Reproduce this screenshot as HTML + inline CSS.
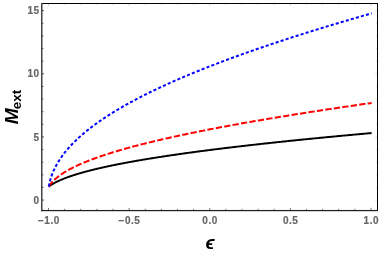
<!DOCTYPE html>
<html><head><meta charset="utf-8"><title>plot</title>
<style>
html,body{margin:0;padding:0;background:#fff;}
body{width:382px;height:254px;overflow:hidden;font-family:"Liberation Sans",sans-serif;}
svg{display:block;will-change:transform;}
text{font-family:"Liberation Sans",sans-serif;}
</style></head><body>
<svg width="382" height="254" viewBox="0 0 382 254">
<rect width="382" height="254" fill="#fff"/>
<g fill="none" stroke-linecap="butt" stroke-linejoin="round">
<path d="M48.80 186.51 L48.80 186.51 L48.81 186.50 L48.82 186.50 L48.83 186.49 L48.85 186.47 L48.87 186.46 L48.90 186.44 L48.93 186.41 L48.96 186.39 L49.00 186.36 L49.05 186.33 L49.09 186.30 L49.14 186.26 L49.20 186.22 L49.26 186.18 L49.32 186.13 L49.39 186.09 L49.46 186.04 L49.53 185.98 L49.61 185.93 L49.69 185.87 L49.78 185.81 L49.87 185.75 L49.97 185.68 L50.07 185.61 L50.17 185.54 L50.28 185.47 L50.39 185.40 L50.51 185.32 L50.63 185.24 L50.75 185.16 L50.88 185.08 L51.01 184.99 L51.14 184.91 L51.28 184.82 L51.43 184.73 L51.58 184.63 L51.73 184.54 L51.88 184.44 L52.04 184.35 L52.21 184.25 L52.38 184.15 L52.55 184.05 L52.73 183.94 L52.91 183.84 L53.09 183.73 L53.28 183.62 L53.47 183.51 L53.67 183.40 L53.87 183.29 L54.07 183.18 L54.28 183.07 L54.50 182.95 L54.71 182.83 L54.93 182.72 L55.16 182.60 L55.39 182.48 L55.62 182.36 L55.86 182.24 L56.10 182.11 L56.35 181.99 L56.60 181.87 L56.85 181.74 L57.11 181.62 L57.37 181.49 L57.63 181.36 L57.90 181.24 L58.18 181.11 L58.45 180.98 L58.74 180.85 L59.02 180.72 L59.31 180.59 L59.61 180.45 L59.90 180.32 L60.21 180.19 L60.51 180.05 L60.82 179.92 L61.14 179.78 L61.46 179.65 L61.78 179.51 L62.11 179.38 L62.44 179.24 L62.77 179.10 L63.11 178.97 L63.45 178.83 L63.80 178.69 L64.15 178.55 L64.50 178.41 L64.86 178.27 L65.23 178.13 L65.59 177.99 L65.96 177.85 L66.34 177.71 L66.72 177.57 L67.10 177.43 L67.49 177.29 L67.88 177.15 L68.28 177.00 L68.68 176.86 L69.08 176.72 L69.49 176.58 L69.90 176.43 L70.31 176.29 L70.73 176.15 L71.16 176.00 L71.59 175.86 L72.02 175.71 L72.45 175.57 L72.89 175.42 L73.34 175.28 L73.79 175.14 L74.24 174.99 L74.69 174.85 L75.15 174.70 L75.62 174.55 L76.09 174.41 L76.56 174.26 L77.04 174.12 L77.52 173.97 L78.00 173.83 L78.49 173.68 L78.98 173.53 L79.48 173.39 L79.98 173.24 L80.49 173.09 L81.00 172.95 L81.51 172.80 L82.03 172.65 L82.55 172.51 L83.07 172.36 L83.60 172.21 L84.13 172.07 L84.67 171.92 L85.21 171.77 L85.76 171.62 L86.31 171.48 L86.86 171.33 L87.42 171.18 L87.98 171.03 L88.55 170.89 L89.12 170.74 L89.69 170.59 L90.27 170.44 L90.85 170.30 L91.44 170.15 L92.03 170.00 L92.62 169.85 L93.22 169.70 L93.82 169.56 L94.43 169.41 L95.04 169.26 L95.65 169.11 L96.27 168.96 L96.89 168.82 L97.52 168.67 L98.15 168.52 L98.79 168.37 L99.42 168.22 L100.07 168.08 L100.71 167.93 L101.37 167.78 L102.02 167.63 L102.68 167.48 L103.34 167.34 L104.01 167.19 L104.68 167.04 L105.36 166.89 L106.04 166.74 L106.72 166.60 L107.41 166.45 L108.10 166.30 L108.79 166.15 L109.49 166.00 L110.20 165.85 L110.90 165.71 L111.62 165.56 L112.33 165.41 L113.05 165.26 L113.78 165.11 L114.50 164.97 L115.24 164.82 L115.97 164.67 L116.71 164.52 L117.46 164.37 L118.21 164.23 L118.96 164.08 L119.71 163.93 L120.47 163.78 L121.24 163.63 L122.01 163.49 L122.78 163.34 L123.56 163.19 L124.34 163.04 L125.12 162.90 L125.91 162.75 L126.70 162.60 L127.50 162.45 L128.30 162.30 L129.11 162.16 L129.92 162.01 L130.73 161.86 L131.55 161.71 L132.37 161.57 L133.19 161.42 L134.02 161.27 L134.86 161.12 L135.69 160.98 L136.54 160.83 L137.38 160.68 L138.23 160.53 L139.08 160.39 L139.94 160.24 L140.80 160.09 L141.67 159.94 L142.54 159.80 L143.41 159.65 L144.29 159.50 L145.17 159.35 L146.06 159.21 L146.95 159.06 L147.84 158.91 L148.74 158.77 L149.65 158.62 L150.55 158.47 L151.46 158.32 L152.38 158.18 L153.30 158.03 L154.22 157.88 L155.15 157.74 L156.08 157.59 L157.01 157.44 L157.95 157.30 L158.89 157.15 L159.84 157.00 L160.79 156.86 L161.75 156.71 L162.71 156.56 L163.67 156.42 L164.64 156.27 L165.61 156.12 L166.58 155.98 L167.56 155.83 L168.55 155.68 L169.53 155.54 L170.52 155.39 L171.52 155.24 L172.52 155.10 L173.52 154.95 L174.53 154.80 L175.54 154.66 L176.56 154.51 L177.58 154.36 L178.60 154.22 L179.63 154.07 L180.66 153.92 L181.70 153.78 L182.74 153.63 L183.79 153.49 L184.83 153.34 L185.89 153.19 L186.94 153.05 L188.00 152.90 L189.07 152.76 L190.14 152.61 L191.21 152.46 L192.29 152.32 L193.37 152.17 L194.45 152.02 L195.54 151.88 L196.63 151.73 L197.73 151.59 L198.83 151.44 L199.94 151.30 L201.05 151.15 L202.16 151.00 L203.28 150.86 L204.40 150.71 L205.52 150.57 L206.65 150.42 L207.79 150.27 L208.93 150.13 L210.07 149.98 L211.21 149.84 L212.36 149.69 L213.52 149.55 L214.67 149.40 L215.84 149.26 L217.00 149.11 L218.17 148.96 L219.35 148.82 L220.52 148.67 L221.71 148.53 L222.89 148.38 L224.08 148.24 L225.28 148.09 L226.48 147.95 L227.68 147.80 L228.89 147.66 L230.10 147.51 L231.31 147.37 L232.53 147.22 L233.75 147.07 L234.98 146.93 L236.21 146.78 L237.45 146.64 L238.68 146.49 L239.93 146.35 L241.18 146.20 L242.43 146.06 L243.68 145.91 L244.94 145.77 L246.20 145.62 L247.47 145.48 L248.74 145.33 L250.02 145.19 L251.30 145.04 L252.58 144.90 L253.87 144.75 L255.16 144.61 L256.46 144.46 L257.76 144.32 L259.06 144.17 L260.37 144.03 L261.68 143.88 L263.00 143.74 L264.32 143.59 L265.64 143.45 L266.97 143.30 L268.30 143.16 L269.64 143.01 L270.98 142.87 L272.32 142.73 L273.67 142.58 L275.02 142.44 L276.38 142.29 L277.74 142.15 L279.11 142.00 L280.48 141.86 L281.85 141.71 L283.23 141.57 L284.61 141.42 L285.99 141.28 L287.38 141.13 L288.77 140.99 L290.17 140.84 L291.57 140.70 L292.98 140.56 L294.39 140.41 L295.80 140.27 L297.22 140.12 L298.64 139.98 L300.07 139.83 L301.50 139.69 L302.93 139.54 L304.37 139.40 L305.81 139.26 L307.25 139.11 L308.70 138.97 L310.16 138.82 L311.62 138.68 L313.08 138.53 L314.54 138.39 L316.01 138.24 L317.49 138.10 L318.97 137.96 L320.45 137.81 L321.94 137.67 L323.43 137.52 L324.92 137.38 L326.42 137.23 L327.92 137.09 L329.43 136.94 L330.94 136.80 L332.46 136.66 L333.97 136.51 L335.50 136.37 L337.02 136.22 L338.56 136.08 L340.09 135.93 L341.63 135.79 L343.17 135.65 L344.72 135.50 L346.27 135.36 L347.83 135.21 L349.39 135.07 L350.95 134.92 L352.52 134.78 L354.09 134.64 L355.66 134.49 L357.24 134.35 L358.83 134.20 L360.42 134.06 L362.01 133.91 L363.60 133.77 L365.20 133.63 L366.81 133.48 L368.42 133.34 L370.03 133.19 L371.64 133.05" stroke="#000" stroke-width="1.95"/>
<path d="M48.80 186.51 L48.80 186.51 L48.81 186.50 L48.82 186.48 L48.83 186.46 L48.85 186.43 L48.87 186.39 L48.90 186.35 L48.93 186.30 L48.96 186.25 L49.00 186.19 L49.05 186.12 L49.09 186.05 L49.14 185.97 L49.20 185.89 L49.26 185.80 L49.32 185.71 L49.39 185.61 L49.46 185.50 L49.53 185.39 L49.61 185.28 L49.69 185.16 L49.78 185.04 L49.87 184.91 L49.97 184.78 L50.07 184.65 L50.17 184.51 L50.28 184.36 L50.39 184.22 L50.51 184.07 L50.63 183.91 L50.75 183.76 L50.88 183.60 L51.01 183.44 L51.14 183.27 L51.28 183.10 L51.43 182.93 L51.58 182.76 L51.73 182.58 L51.88 182.41 L52.04 182.23 L52.21 182.05 L52.38 181.86 L52.55 181.68 L52.73 181.49 L52.91 181.30 L53.09 181.11 L53.28 180.92 L53.47 180.72 L53.67 180.53 L53.87 180.33 L54.07 180.13 L54.28 179.93 L54.50 179.73 L54.71 179.53 L54.93 179.33 L55.16 179.13 L55.39 178.92 L55.62 178.72 L55.86 178.51 L56.10 178.30 L56.35 178.10 L56.60 177.89 L56.85 177.68 L57.11 177.47 L57.37 177.26 L57.63 177.04 L57.90 176.83 L58.18 176.62 L58.45 176.41 L58.74 176.19 L59.02 175.98 L59.31 175.76 L59.61 175.55 L59.90 175.33 L60.21 175.12 L60.51 174.90 L60.82 174.68 L61.14 174.47 L61.46 174.25 L61.78 174.03 L62.11 173.81 L62.44 173.59 L62.77 173.38 L63.11 173.16 L63.45 172.94 L63.80 172.72 L64.15 172.50 L64.50 172.28 L64.86 172.06 L65.23 171.84 L65.59 171.62 L65.96 171.40 L66.34 171.18 L66.72 170.96 L67.10 170.73 L67.49 170.51 L67.88 170.29 L68.28 170.07 L68.68 169.85 L69.08 169.63 L69.49 169.41 L69.90 169.18 L70.31 168.96 L70.73 168.74 L71.16 168.52 L71.59 168.30 L72.02 168.07 L72.45 167.85 L72.89 167.63 L73.34 167.41 L73.79 167.18 L74.24 166.96 L74.69 166.74 L75.15 166.52 L75.62 166.30 L76.09 166.07 L76.56 165.85 L77.04 165.63 L77.52 165.41 L78.00 165.18 L78.49 164.96 L78.98 164.74 L79.48 164.51 L79.98 164.29 L80.49 164.07 L81.00 163.85 L81.51 163.62 L82.03 163.40 L82.55 163.18 L83.07 162.96 L83.60 162.73 L84.13 162.51 L84.67 162.29 L85.21 162.07 L85.76 161.84 L86.31 161.62 L86.86 161.40 L87.42 161.18 L87.98 160.95 L88.55 160.73 L89.12 160.51 L89.69 160.29 L90.27 160.07 L90.85 159.84 L91.44 159.62 L92.03 159.40 L92.62 159.18 L93.22 158.95 L93.82 158.73 L94.43 158.51 L95.04 158.29 L95.65 158.07 L96.27 157.84 L96.89 157.62 L97.52 157.40 L98.15 157.18 L98.79 156.96 L99.42 156.73 L100.07 156.51 L100.71 156.29 L101.37 156.07 L102.02 155.85 L102.68 155.62 L103.34 155.40 L104.01 155.18 L104.68 154.96 L105.36 154.74 L106.04 154.52 L106.72 154.29 L107.41 154.07 L108.10 153.85 L108.79 153.63 L109.49 153.41 L110.20 153.19 L110.90 152.96 L111.62 152.74 L112.33 152.52 L113.05 152.30 L113.78 152.08 L114.50 151.86 L115.24 151.64 L115.97 151.41 L116.71 151.19 L117.46 150.97 L118.21 150.75 L118.96 150.53 L119.71 150.31 L120.47 150.09 L121.24 149.87 L122.01 149.64 L122.78 149.42 L123.56 149.20 L124.34 148.98 L125.12 148.76 L125.91 148.54 L126.70 148.32 L127.50 148.10 L128.30 147.88 L129.11 147.65 L129.92 147.43 L130.73 147.21 L131.55 146.99 L132.37 146.77 L133.19 146.55 L134.02 146.33 L134.86 146.11 L135.69 145.89 L136.54 145.67 L137.38 145.45 L138.23 145.22 L139.08 145.00 L139.94 144.78 L140.80 144.56 L141.67 144.34 L142.54 144.12 L143.41 143.90 L144.29 143.68 L145.17 143.46 L146.06 143.24 L146.95 143.02 L147.84 142.80 L148.74 142.57 L149.65 142.35 L150.55 142.13 L151.46 141.91 L152.38 141.69 L153.30 141.47 L154.22 141.25 L155.15 141.03 L156.08 140.81 L157.01 140.59 L157.95 140.37 L158.89 140.15 L159.84 139.92 L160.79 139.70 L161.75 139.48 L162.71 139.26 L163.67 139.04 L164.64 138.82 L165.61 138.60 L166.58 138.38 L167.56 138.16 L168.55 137.94 L169.53 137.72 L170.52 137.49 L171.52 137.27 L172.52 137.05 L173.52 136.83 L174.53 136.61 L175.54 136.39 L176.56 136.17 L177.58 135.95 L178.60 135.73 L179.63 135.51 L180.66 135.28 L181.70 135.06 L182.74 134.84 L183.79 134.62 L184.83 134.40 L185.89 134.18 L186.94 133.96 L188.00 133.74 L189.07 133.51 L190.14 133.29 L191.21 133.07 L192.29 132.85 L193.37 132.63 L194.45 132.41 L195.54 132.19 L196.63 131.97 L197.73 131.74 L198.83 131.52 L199.94 131.30 L201.05 131.08 L202.16 130.86 L203.28 130.64 L204.40 130.41 L205.52 130.19 L206.65 129.97 L207.79 129.75 L208.93 129.53 L210.07 129.31 L211.21 129.08 L212.36 128.86 L213.52 128.64 L214.67 128.42 L215.84 128.20 L217.00 127.97 L218.17 127.75 L219.35 127.53 L220.52 127.31 L221.71 127.08 L222.89 126.86 L224.08 126.64 L225.28 126.42 L226.48 126.20 L227.68 125.97 L228.89 125.75 L230.10 125.53 L231.31 125.31 L232.53 125.08 L233.75 124.86 L234.98 124.64 L236.21 124.42 L237.45 124.19 L238.68 123.97 L239.93 123.75 L241.18 123.52 L242.43 123.30 L243.68 123.08 L244.94 122.85 L246.20 122.63 L247.47 122.41 L248.74 122.18 L250.02 121.96 L251.30 121.74 L252.58 121.51 L253.87 121.29 L255.16 121.07 L256.46 120.84 L257.76 120.62 L259.06 120.40 L260.37 120.17 L261.68 119.95 L263.00 119.73 L264.32 119.50 L265.64 119.28 L266.97 119.05 L268.30 118.83 L269.64 118.61 L270.98 118.38 L272.32 118.16 L273.67 117.93 L275.02 117.71 L276.38 117.48 L277.74 117.26 L279.11 117.03 L280.48 116.81 L281.85 116.59 L283.23 116.36 L284.61 116.14 L285.99 115.91 L287.38 115.69 L288.77 115.46 L290.17 115.24 L291.57 115.01 L292.98 114.78 L294.39 114.56 L295.80 114.33 L297.22 114.11 L298.64 113.88 L300.07 113.66 L301.50 113.43 L302.93 113.21 L304.37 112.98 L305.81 112.75 L307.25 112.53 L308.70 112.30 L310.16 112.08 L311.62 111.85 L313.08 111.62 L314.54 111.40 L316.01 111.17 L317.49 110.94 L318.97 110.72 L320.45 110.49 L321.94 110.26 L323.43 110.04 L324.92 109.81 L326.42 109.58 L327.92 109.36 L329.43 109.13 L330.94 108.90 L332.46 108.67 L333.97 108.45 L335.50 108.22 L337.02 107.99 L338.56 107.76 L340.09 107.54 L341.63 107.31 L343.17 107.08 L344.72 106.85 L346.27 106.62 L347.83 106.40 L349.39 106.17 L350.95 105.94 L352.52 105.71 L354.09 105.48 L355.66 105.25 L357.24 105.03 L358.83 104.80 L360.42 104.57 L362.01 104.34 L363.60 104.11 L365.20 103.88 L366.81 103.65 L368.42 103.42 L370.03 103.19 L371.64 102.96" stroke="#ff0000" stroke-width="2" stroke-dasharray="6.3 2.25"/>
<path d="M48.80 186.51 L48.80 186.50 L48.81 186.46 L48.82 186.41 L48.83 186.33 L48.85 186.22 L48.87 186.10 L48.90 185.95 L48.93 185.79 L48.96 185.61 L49.00 185.40 L49.05 185.18 L49.09 184.95 L49.14 184.70 L49.20 184.43 L49.26 184.15 L49.32 183.85 L49.39 183.55 L49.46 183.23 L49.53 182.90 L49.61 182.57 L49.69 182.22 L49.78 181.87 L49.87 181.50 L49.97 181.13 L50.07 180.76 L50.17 180.38 L50.28 179.99 L50.39 179.59 L50.51 179.20 L50.63 178.79 L50.75 178.39 L50.88 177.98 L51.01 177.56 L51.14 177.14 L51.28 176.72 L51.43 176.30 L51.58 175.87 L51.73 175.44 L51.88 175.01 L52.04 174.58 L52.21 174.14 L52.38 173.71 L52.55 173.27 L52.73 172.83 L52.91 172.39 L53.09 171.95 L53.28 171.50 L53.47 171.06 L53.67 170.61 L53.87 170.16 L54.07 169.72 L54.28 169.27 L54.50 168.82 L54.71 168.37 L54.93 167.92 L55.16 167.47 L55.39 167.02 L55.62 166.56 L55.86 166.11 L56.10 165.66 L56.35 165.20 L56.60 164.75 L56.85 164.30 L57.11 163.84 L57.37 163.39 L57.63 162.93 L57.90 162.48 L58.18 162.02 L58.45 161.57 L58.74 161.11 L59.02 160.66 L59.31 160.20 L59.61 159.75 L59.90 159.29 L60.21 158.84 L60.51 158.38 L60.82 157.93 L61.14 157.47 L61.46 157.02 L61.78 156.56 L62.11 156.10 L62.44 155.65 L62.77 155.19 L63.11 154.74 L63.45 154.28 L63.80 153.83 L64.15 153.37 L64.50 152.92 L64.86 152.46 L65.23 152.01 L65.59 151.55 L65.96 151.10 L66.34 150.64 L66.72 150.19 L67.10 149.74 L67.49 149.28 L67.88 148.83 L68.28 148.37 L68.68 147.92 L69.08 147.47 L69.49 147.01 L69.90 146.56 L70.31 146.10 L70.73 145.65 L71.16 145.20 L71.59 144.75 L72.02 144.29 L72.45 143.84 L72.89 143.39 L73.34 142.93 L73.79 142.48 L74.24 142.03 L74.69 141.58 L75.15 141.13 L75.62 140.67 L76.09 140.22 L76.56 139.77 L77.04 139.32 L77.52 138.87 L78.00 138.42 L78.49 137.97 L78.98 137.52 L79.48 137.07 L79.98 136.62 L80.49 136.16 L81.00 135.71 L81.51 135.26 L82.03 134.81 L82.55 134.36 L83.07 133.91 L83.60 133.46 L84.13 133.02 L84.67 132.57 L85.21 132.12 L85.76 131.67 L86.31 131.22 L86.86 130.77 L87.42 130.32 L87.98 129.87 L88.55 129.42 L89.12 128.98 L89.69 128.53 L90.27 128.08 L90.85 127.63 L91.44 127.18 L92.03 126.73 L92.62 126.29 L93.22 125.84 L93.82 125.39 L94.43 124.94 L95.04 124.50 L95.65 124.05 L96.27 123.60 L96.89 123.16 L97.52 122.71 L98.15 122.26 L98.79 121.82 L99.42 121.37 L100.07 120.92 L100.71 120.48 L101.37 120.03 L102.02 119.58 L102.68 119.14 L103.34 118.69 L104.01 118.24 L104.68 117.80 L105.36 117.35 L106.04 116.91 L106.72 116.46 L107.41 116.02 L108.10 115.57 L108.79 115.12 L109.49 114.68 L110.20 114.23 L110.90 113.79 L111.62 113.34 L112.33 112.90 L113.05 112.45 L113.78 112.01 L114.50 111.56 L115.24 111.12 L115.97 110.67 L116.71 110.23 L117.46 109.78 L118.21 109.34 L118.96 108.89 L119.71 108.45 L120.47 108.00 L121.24 107.56 L122.01 107.12 L122.78 106.67 L123.56 106.23 L124.34 105.78 L125.12 105.34 L125.91 104.89 L126.70 104.45 L127.50 104.01 L128.30 103.56 L129.11 103.12 L129.92 102.67 L130.73 102.23 L131.55 101.78 L132.37 101.34 L133.19 100.90 L134.02 100.45 L134.86 100.01 L135.69 99.57 L136.54 99.12 L137.38 98.68 L138.23 98.23 L139.08 97.79 L139.94 97.35 L140.80 96.90 L141.67 96.46 L142.54 96.01 L143.41 95.57 L144.29 95.13 L145.17 94.68 L146.06 94.24 L146.95 93.80 L147.84 93.35 L148.74 92.91 L149.65 92.46 L150.55 92.02 L151.46 91.58 L152.38 91.13 L153.30 90.69 L154.22 90.25 L155.15 89.80 L156.08 89.36 L157.01 88.91 L157.95 88.47 L158.89 88.03 L159.84 87.58 L160.79 87.14 L161.75 86.70 L162.71 86.25 L163.67 85.81 L164.64 85.36 L165.61 84.92 L166.58 84.48 L167.56 84.03 L168.55 83.59 L169.53 83.14 L170.52 82.70 L171.52 82.26 L172.52 81.81 L173.52 81.37 L174.53 80.92 L175.54 80.48 L176.56 80.04 L177.58 79.59 L178.60 79.15 L179.63 78.70 L180.66 78.26 L181.70 77.81 L182.74 77.37 L183.79 76.93 L184.83 76.48 L185.89 76.04 L186.94 75.59 L188.00 75.15 L189.07 74.70 L190.14 74.26 L191.21 73.81 L192.29 73.37 L193.37 72.92 L194.45 72.48 L195.54 72.03 L196.63 71.59 L197.73 71.14 L198.83 70.70 L199.94 70.25 L201.05 69.81 L202.16 69.36 L203.28 68.92 L204.40 68.47 L205.52 68.03 L206.65 67.58 L207.79 67.13 L208.93 66.69 L210.07 66.24 L211.21 65.80 L212.36 65.35 L213.52 64.90 L214.67 64.46 L215.84 64.01 L217.00 63.57 L218.17 63.12 L219.35 62.67 L220.52 62.23 L221.71 61.78 L222.89 61.33 L224.08 60.89 L225.28 60.44 L226.48 59.99 L227.68 59.55 L228.89 59.10 L230.10 58.65 L231.31 58.20 L232.53 57.76 L233.75 57.31 L234.98 56.86 L236.21 56.41 L237.45 55.97 L238.68 55.52 L239.93 55.07 L241.18 54.62 L242.43 54.17 L243.68 53.73 L244.94 53.28 L246.20 52.83 L247.47 52.38 L248.74 51.93 L250.02 51.48 L251.30 51.04 L252.58 50.59 L253.87 50.14 L255.16 49.69 L256.46 49.24 L257.76 48.79 L259.06 48.34 L260.37 47.89 L261.68 47.44 L263.00 46.99 L264.32 46.54 L265.64 46.09 L266.97 45.64 L268.30 45.19 L269.64 44.74 L270.98 44.29 L272.32 43.84 L273.67 43.39 L275.02 42.94 L276.38 42.49 L277.74 42.04 L279.11 41.58 L280.48 41.13 L281.85 40.68 L283.23 40.23 L284.61 39.78 L285.99 39.33 L287.38 38.87 L288.77 38.42 L290.17 37.97 L291.57 37.52 L292.98 37.07 L294.39 36.61 L295.80 36.16 L297.22 35.71 L298.64 35.25 L300.07 34.80 L301.50 34.35 L302.93 33.89 L304.37 33.44 L305.81 32.99 L307.25 32.53 L308.70 32.08 L310.16 31.63 L311.62 31.17 L313.08 30.72 L314.54 30.26 L316.01 29.81 L317.49 29.35 L318.97 28.90 L320.45 28.44 L321.94 27.99 L323.43 27.53 L324.92 27.08 L326.42 26.62 L327.92 26.16 L329.43 25.71 L330.94 25.25 L332.46 24.80 L333.97 24.34 L335.50 23.88 L337.02 23.43 L338.56 22.97 L340.09 22.51 L341.63 22.05 L343.17 21.60 L344.72 21.14 L346.27 20.68 L347.83 20.22 L349.39 19.77 L350.95 19.31 L352.52 18.85 L354.09 18.39 L355.66 17.93 L357.24 17.47 L358.83 17.01 L360.42 16.55 L362.01 16.09 L363.60 15.63 L365.20 15.18 L366.81 14.72 L368.42 14.26 L370.03 13.79 L371.64 13.33" stroke="#0000ff" stroke-width="2" stroke-dasharray="3.1 2.15"/>
</g>
<g stroke="#c4c4c4" stroke-width="0.6" fill="none">
<line x1="377" y1="200.10" x2="375.25" y2="200.10"/>
<line x1="377" y1="187.47" x2="375.85" y2="187.47"/>
<line x1="377" y1="174.85" x2="375.85" y2="174.85"/>
<line x1="377" y1="162.22" x2="375.85" y2="162.22"/>
<line x1="377" y1="149.59" x2="375.85" y2="149.59"/>
<line x1="377" y1="136.96" x2="375.25" y2="136.96"/>
<line x1="377" y1="124.34" x2="375.85" y2="124.34"/>
<line x1="377" y1="111.71" x2="375.85" y2="111.71"/>
<line x1="377" y1="99.08" x2="375.85" y2="99.08"/>
<line x1="377" y1="86.46" x2="375.85" y2="86.46"/>
<line x1="377" y1="73.83" x2="375.25" y2="73.83"/>
<line x1="377" y1="61.20" x2="375.85" y2="61.20"/>
<line x1="377" y1="48.58" x2="375.85" y2="48.58"/>
<line x1="377" y1="35.95" x2="375.85" y2="35.95"/>
<line x1="377" y1="23.32" x2="375.85" y2="23.32"/>
<line x1="377" y1="10.69" x2="375.25" y2="10.69"/>
<line x1="48.50" y1="4" x2="48.50" y2="6.10"/>
<line x1="64.62" y1="4" x2="64.62" y2="5.20"/>
<line x1="80.74" y1="4" x2="80.74" y2="5.20"/>
<line x1="96.87" y1="4" x2="96.87" y2="5.20"/>
<line x1="112.99" y1="4" x2="112.99" y2="5.20"/>
<line x1="129.11" y1="4" x2="129.11" y2="6.10"/>
<line x1="145.23" y1="4" x2="145.23" y2="5.20"/>
<line x1="161.35" y1="4" x2="161.35" y2="5.20"/>
<line x1="177.48" y1="4" x2="177.48" y2="5.20"/>
<line x1="193.60" y1="4" x2="193.60" y2="5.20"/>
<line x1="209.72" y1="4" x2="209.72" y2="6.10"/>
<line x1="225.84" y1="4" x2="225.84" y2="5.20"/>
<line x1="241.96" y1="4" x2="241.96" y2="5.20"/>
<line x1="258.09" y1="4" x2="258.09" y2="5.20"/>
<line x1="274.21" y1="4" x2="274.21" y2="5.20"/>
<line x1="290.33" y1="4" x2="290.33" y2="6.10"/>
<line x1="306.45" y1="4" x2="306.45" y2="5.20"/>
<line x1="322.57" y1="4" x2="322.57" y2="5.20"/>
<line x1="338.70" y1="4" x2="338.70" y2="5.20"/>
<line x1="354.82" y1="4" x2="354.82" y2="5.20"/>
<line x1="370.94" y1="4" x2="370.94" y2="6.10"/>
</g>
<g stroke="#484848" stroke-width="1" fill="none">
<line x1="42" y1="200.10" x2="43.95" y2="200.10"/>
<line x1="42" y1="187.47" x2="43.35" y2="187.47"/>
<line x1="42" y1="174.85" x2="43.35" y2="174.85"/>
<line x1="42" y1="162.22" x2="43.35" y2="162.22"/>
<line x1="42" y1="149.59" x2="43.35" y2="149.59"/>
<line x1="42" y1="136.96" x2="43.95" y2="136.96"/>
<line x1="42" y1="124.34" x2="43.35" y2="124.34"/>
<line x1="42" y1="111.71" x2="43.35" y2="111.71"/>
<line x1="42" y1="99.08" x2="43.35" y2="99.08"/>
<line x1="42" y1="86.46" x2="43.35" y2="86.46"/>
<line x1="42" y1="73.83" x2="43.95" y2="73.83"/>
<line x1="42" y1="61.20" x2="43.35" y2="61.20"/>
<line x1="42" y1="48.58" x2="43.35" y2="48.58"/>
<line x1="42" y1="35.95" x2="43.35" y2="35.95"/>
<line x1="42" y1="23.32" x2="43.35" y2="23.32"/>
<line x1="42" y1="10.69" x2="43.95" y2="10.69"/>
</g>
<g stroke="#6a6a6a" stroke-width="0.9" fill="none">
<line x1="48.50" y1="210.2" x2="48.50" y2="207.90"/>
<line x1="64.62" y1="210.2" x2="64.62" y2="208.80"/>
<line x1="80.74" y1="210.2" x2="80.74" y2="208.80"/>
<line x1="96.87" y1="210.2" x2="96.87" y2="208.80"/>
<line x1="112.99" y1="210.2" x2="112.99" y2="208.80"/>
<line x1="129.11" y1="210.2" x2="129.11" y2="207.90"/>
<line x1="145.23" y1="210.2" x2="145.23" y2="208.80"/>
<line x1="161.35" y1="210.2" x2="161.35" y2="208.80"/>
<line x1="177.48" y1="210.2" x2="177.48" y2="208.80"/>
<line x1="193.60" y1="210.2" x2="193.60" y2="208.80"/>
<line x1="209.72" y1="210.2" x2="209.72" y2="207.90"/>
<line x1="225.84" y1="210.2" x2="225.84" y2="208.80"/>
<line x1="241.96" y1="210.2" x2="241.96" y2="208.80"/>
<line x1="258.09" y1="210.2" x2="258.09" y2="208.80"/>
<line x1="274.21" y1="210.2" x2="274.21" y2="208.80"/>
<line x1="290.33" y1="210.2" x2="290.33" y2="207.90"/>
<line x1="306.45" y1="210.2" x2="306.45" y2="208.80"/>
<line x1="322.57" y1="210.2" x2="322.57" y2="208.80"/>
<line x1="338.70" y1="210.2" x2="338.70" y2="208.80"/>
<line x1="354.82" y1="210.2" x2="354.82" y2="208.80"/>
<line x1="370.94" y1="210.2" x2="370.94" y2="207.90"/>
</g>
<!-- frame -->
<rect x="41" y="3" width="337" height="1" fill="#000"/>
<rect x="377" y="3" width="1" height="208" fill="#000"/>
<rect x="41" y="3" width="1.5" height="208.2" fill="#444"/>
<rect x="41" y="209.95" width="337" height="1.25" fill="#222"/>
<g font-size="10" font-weight="bold" fill="#666" stroke="#666" stroke-width="0.18" letter-spacing="0.55">
<text x="37.91" y="223.6">−1.0</text><text x="118.52" y="223.6">−0.5</text><text x="202.32" y="223.6">0.0</text><text x="282.93" y="223.6">0.5</text><text x="363.54" y="223.6">1.0</text>
</g>
<g font-size="10" font-weight="bold" fill="#666" stroke="#666" stroke-width="0.18" letter-spacing="0.35">
<text x="39.35" y="203.70" text-anchor="end">0</text><text x="39.35" y="140.56" text-anchor="end">5</text><text x="39.35" y="77.43" text-anchor="end">10</text><text x="39.35" y="14.29" text-anchor="end">15</text>
</g>
<g transform="translate(17.75 124.35) rotate(-90)" fill="#000" font-weight="bold">
<text x="0" y="0" font-size="19.2" font-style="italic">M</text>
<text x="15.15" y="3.5" font-size="13.5">ext</text>
</g>
<text x="205.5" y="249.2" font-size="19" font-weight="bold" font-style="italic" fill="#000">ϵ</text>
</svg>
</body></html>
